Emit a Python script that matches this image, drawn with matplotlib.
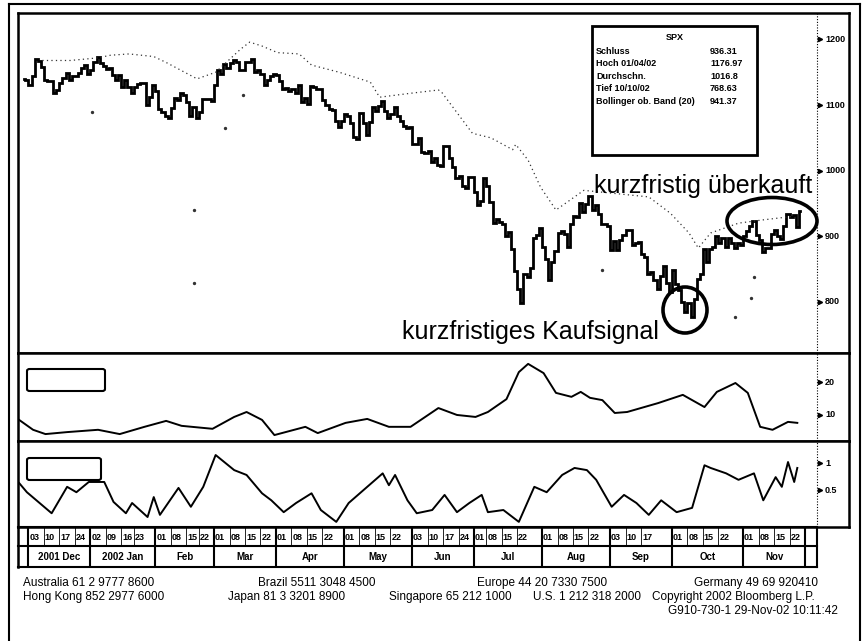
import numpy as np
import pandas as pd
import matplotlib
matplotlib.use("Agg")
import matplotlib.pyplot as plt
from matplotlib.patches import Rectangle, Ellipse, FancyBboxPatch
from matplotlib.lines import Line2D
from matplotlib import font_manager as fm

# ---------------- data (S&P 500, daily closes) ----------------
nov01 = [1140, 1139]
dec01 = [1130,1145,1170,1167,1158,1139,1136,1137,1119,1123,1134,1142,1149,1139,1144,1144,1149,1157,1161,1148]
jan02 = [1154,1166,1173,1164,1160,1155,1156,1146,1138,1146,1128,1138,1128,1119,1128,1132,1133,1134,1100,1113,1130]
feb02 = [1122,1094,1090,1083,1080,1096,1111,1107,1118,1116,1104,1083,1097,1081,1089,1109,1109,1110,1106]
mar02 = [1131,1154,1147,1162,1157,1164,1168,1165,1154,1153,1166,1166,1170,1151,1153,1148,1131,1138,1144,1147]
apr02 = [1146,1136,1125,1126,1122,1125,1118,1130,1104,1111,1102,1129,1127,1125,1125,1108,1100,1094,1093,1076,1066,1076]
may02 = [1086,1084,1073,1052,1049,1088,1073,1054,1074,1097,1091,1098,1106,1091,1080,1086,1097,1083,1075,1068,1065,1067]
jun02 = [1040,1040,1050,1029,1027,1030,1013,1020,1009,1007,1037,1037,1019,1006,989,992,977,973,990,990]
jul02 = [968,948,953,989,977,952,920,927,921,918,900,906,881,847,820,798,843,838,852,898,902,912]
aug02 = [884,865,834,860,877,905,908,903,884,919,931,930,950,937,949,962,940,947,934,918,918,916]
sep02 = [879,893,879,894,902,909,910,887,889,892,873,869,843,846,834,820,840,855,828,815]
oct02 = [848,827,818,800,785,798,777,804,835,842,881,860,880,884,900,890,897,883,898,890,882,890,886]
nov02 = [900,908,915,923,902,894,876,882,882,904,910,900,896,915,934,930,932,914,938]

# upper band (dotted), positions in trading days from 29-Nov-2001
band_pos  = [6,15,24,28,34,42,46,50,56,62,70,73,77,82,89,93,102,112,115,125,134,135,
             145,151,158,159,163,167,172,181,202,209,215,218,222,231,239,248]
band_vals = [1168,1168,1172,1176,1178,1174,1165,1155,1140,1150,1185,1196,1190,1180,1178,1161,
             1150,1135,1112,1118,1123,1120,1057,1050,1032,1040,1016,975,940,970,960,935,905,
             882,905,920,925,930]
# scattered remnants of the lower band
low_pos  = [22,55,55,65,71,187,230,235,236]
low_vals = [1089,940,829,1065,1115,849,777,806,838]

# middle panel indicator
mid_pos  = [-1.5,3,7,14,24,31,39,46,51,61,68,72,77,81,91,95,104,111,118,125,134,140,146,150,
            156,160,163,168,172,177,180,183,187,191,195,205,213,220,224,230,234,238,242,247,250]
mid_vals = [8.5,5.5,4.2,4.8,5.5,4.2,6.4,8.2,6.7,5.8,9.4,10.9,8.5,3.9,6.4,4.5,7.6,8.8,6.4,6.4,
            12.1,10.0,9.4,10.9,14.8,23.0,25.5,22.7,16.7,15.5,17.0,15.2,14.5,10.6,10.9,13.6,16.1,
            12.4,17.0,19.7,16.7,6.4,5.5,7.9,7.6]

# bottom panel oscillator
osc_pos  = [-1.5,1,9,14,17,21,26,29,33,35,40,42,44,50,54,58,62,68,72,77,80,84,88,93,96,101,
            105,108,116,118,120,124,127,132,136,140,144,148,150,155,160,165,169,174,178,182,
            185,190,194,198,202,206,211,216,220,222,227,231,236,239,243,245,247,249,250]
osc_vals = [0.63,0.46,0.07,0.56,0.46,0.65,0.65,0.28,0.07,0.26,0.0,0.37,0.04,0.54,0.19,0.56,
            1.15,0.87,0.78,0.44,0.31,0.09,0.26,0.44,0.13,-0.09,0.26,0.41,0.81,0.59,0.78,0.31,
            0.07,0.13,0.41,0.09,0.26,0.41,0.09,0.13,-0.09,0.56,0.46,0.78,0.91,0.87,0.69,0.19,
            0.41,0.26,0.04,0.31,0.09,0.17,0.96,0.91,0.81,0.69,0.81,0.31,0.74,0.56,1.02,0.65,0.91]

main_ticks = [1200, 1100, 1000, 900, 800]
mid_ticks = [20, 10]
osc_ticks = [1, 0.5]
osc_tick_labels = ['1', '0.5']

month_keys  = ['2001-12','2002-01','2002-02','2002-03','2002-04','2002-05','2002-06',
               '2002-07','2002-08','2002-09','2002-10','2002-11']
month_names = ['2001 Dec','2002 Jan','Feb','Mar','Apr','May','Jun','Jul','Aug','Sep','Oct','Nov']
week_days = [['03','10','17','24'],['02','09','16','23'],['01','08','15','22'],['01','08','15','22'],
             ['01','08','15','22'],['01','08','15','22'],['03','10','17','24'],['01','08','15','22'],
             ['01','08','15','22'],['03','10','17'],['01','08','15','22'],['01','08','15','22']]

holidays = ['2001-12-25','2002-01-01','2002-01-21','2002-02-18','2002-03-29','2002-05-27',
            '2002-07-04','2002-09-02','2002-11-28']

legend_rows = [('Schluss', '936.31'), ('Hoch 01/04/02', '1176.97'), ('Durchschn.', '1016.8'),
               ('Tief 10/10/02', '768.63'), ('Bollinger ob. Band (20)', '941.37')]

# ---------------- setup ----------------
names = {f.name for f in fm.fontManager.ttflist}
NARROW = 'Liberation Sans Narrow' if 'Liberation Sans Narrow' in names else 'Liberation Sans'
plt.rcParams['font.family'] = ['Liberation Sans', 'DejaVu Sans']

W, H = 868, 641
fig = plt.figure(figsize=(W / 100, H / 100), dpi=100)
fig.patch.set_facecolor('white')

def rect(x0, y0, x1, y1):
    return [x0 / W, 1 - y1 / H, (x1 - x0) / W, (y1 - y0) / H]

def fx(x):
    return x / W

def fy(y):
    return 1 - y / H

days = pd.bdate_range('2001-11-29', '2002-11-29')
days = days[~days.isin(pd.to_datetime(holidays))]
close = np.array(nov01 + dec01 + jan02 + feb02 + mar02 + apr02 + may02 + jun02 +
                 jul02 + aug02 + sep02 + oct02 + nov02, dtype=float)
pos = np.arange(len(close))

# px = 23.8 + 3.094 * p
XL = (18 - 23.8) / 3.094
XR = (849 - 23.8) / 3.094
XD = (817 - 23.8) / 3.094
XM = (820 - 23.8) / 3.094
XT = (825 - 23.8) / 3.094

def style_axes(ax):
    ax.set_xlim(XL, XR)
    ax.set_xticks([])
    ax.set_yticks([])
    for s in ax.spines.values():
        s.set_linewidth(1.8)
    ax.axvline(XD, color='black', lw=0.8, ls=(0, (1, 1.5)))

# ---------------- main panel ----------------
ax = fig.add_axes(rect(18, 13, 849, 353))
style_axes(ax)
ax.set_ylim(722, 1240.4)
ax.plot(pos, close, drawstyle='steps-mid', color='black', lw=2.0, solid_joinstyle='miter')
ax.plot(band_pos, band_vals, color='#333333', lw=0.9, ls=(0, (1, 2.6)))
ax.plot(low_pos, low_vals, ls='none', marker='o', ms=1.4, color='#333333')
for t in main_ticks:
    ax.plot([XM], [t], marker='>', ms=3, color='black', clip_on=False)
    ax.text(XT, t, str(t), fontsize=6.5, fontweight='bold', family=[NARROW, 'DejaVu Sans'],
            va='center', ha='left')

# legend box
fig.add_artist(Rectangle((fx(592), fy(155)), (757 - 592) / W, (155 - 26) / H,
                         transform=fig.transFigure, fill=True, facecolor='white',
                         edgecolor='black', lw=2))
fig.text(fx(675), fy(38), 'SPX', fontsize=6.5, fontweight='bold', ha='center', va='center',
         family=[NARROW, 'DejaVu Sans'])
for k, (lab, val) in enumerate(legend_rows):
    yy = 51 + k * 12.6
    fig.text(fx(596), fy(yy), lab, fontsize=6.5, fontweight='bold', ha='left', va='center',
             family=[NARROW, 'DejaVu Sans'])
    fig.text(fx(710), fy(yy), val, fontsize=6.5, fontweight='bold', ha='left', va='center',
             family=[NARROW, 'DejaVu Sans'])

# annotations
fig.text(fx(594), fy(193), 'kurzfristig überkauft', fontsize=18, ha='left', va='baseline',
         family=[NARROW, 'DejaVu Sans'])
fig.text(fx(402), fy(339), 'kurzfristiges Kaufsignal', fontsize=18, ha='left', va='baseline',
         family=[NARROW, 'DejaVu Sans'])
fig.add_artist(Ellipse((fx(685), fy(310)), 44 / W, 46 / H, transform=fig.transFigure,
                       fill=False, edgecolor='black', lw=2.6))
fig.add_artist(Ellipse((fx(772), fy(221)), 90 / W, 47 / H, transform=fig.transFigure,
                       fill=False, edgecolor='black', lw=2.6))

# ---------------- middle panel ----------------
ax2 = fig.add_axes(rect(18, 353, 849, 441))
style_axes(ax2)
ax2.set_ylim(2.1, 28.8)
ax2.plot(mid_pos, mid_vals, color='black', lw=1.4)
for t in mid_ticks:
    ax2.plot([XM], [t], marker='>', ms=3, color='black', clip_on=False)
    ax2.text(XT, t, str(t), fontsize=6.5, fontweight='bold', family=[NARROW, 'DejaVu Sans'],
             va='center', ha='left')
ax2.add_patch(FancyBboxPatch((fx(27), fy(391)), (105 - 27) / W, (391 - 369) / H,
                             boxstyle='round,pad=0,rounding_size=0.003',
                             transform=fig.transFigure, facecolor='white', edgecolor='black',
                             lw=1.5, zorder=5))

# ---------------- bottom panel ----------------
ax3 = fig.add_axes(rect(18, 441, 849, 527))
style_axes(ax3)
ax3.set_ylim(-0.185, 1.41)
ax3.plot(osc_pos, osc_vals, color='black', lw=1.4)
for t, lab in zip(osc_ticks, osc_tick_labels):
    ax3.plot([XM], [t], marker='>', ms=3, color='black', clip_on=False)
    ax3.text(XT, t, lab, fontsize=6.5, fontweight='bold', family=[NARROW, 'DejaVu Sans'],
             va='center', ha='left')
ax3.add_patch(FancyBboxPatch((fx(27), fy(480)), (101 - 27) / W, (480 - 458) / H,
                             boxstyle='round,pad=0,rounding_size=0.003',
                             transform=fig.transFigure, facecolor='white', edgecolor='black',
                             lw=1.5, zorder=5))

# ---------------- date table ----------------
axt = fig.add_axes(rect(18, 527, 817, 567))
axt.set_xlim(XL, XD)
axt.set_ylim(0, 40)
axt.axis('off')
for yy in (40, 21, 0):
    axt.plot([XL, XD], [yy, yy], color='black', lw=1.5, clip_on=False)
axt.plot([XL, XL], [0, 40], color='black', lw=1.8, clip_on=False)
axt.plot([XD, XD], [0, 40], color='black', lw=1.5, clip_on=False)
starts = [int(np.searchsorted(days, pd.Timestamp(k + '-01'))) - 0.5 for k in month_keys]
ends = starts[1:] + [len(days) - 0.5]
for s in starts + [ends[-1]]:
    axt.plot([s, s], [0, 40], color='black', lw=1.5)
for k, name, wk, s, e in zip(month_keys, month_names, week_days, starts, ends):
    axt.text((s + e) / 2, 10, name, fontsize=7, fontweight='bold', ha='center', va='center',
             family=[NARROW, 'DejaVu Sans'])
    for d in wk:
        p = days.get_loc(pd.Timestamp(f'{k}-{d}'))
        axt.plot([p - 0.5, p - 0.5], [21, 40], color='black', lw=0.6)
        axt.text(p - 0.2, 30, d, fontsize=6.5, fontweight='bold', ha='left', va='center',
                 family=[NARROW, 'DejaVu Sans'])

# ---------------- frames ----------------
def fline(xs, ys, lw=1.5):
    fig.add_artist(Line2D([fx(x) for x in xs], [fy(y) for y in ys], color='black', lw=lw,
                          transform=fig.transFigure))

fline([9, 9], [4, 641])
fline([9, 860], [4, 4])
fline([860, 860], [4, 641])

# ---------------- footer ----------------
foot = dict(fontsize=8.5, family=[NARROW, 'DejaVu Sans'], va='center', ha='left')
fig.text(fx(23), fy(583), 'Australia 61 2 9777 8600', **foot)
fig.text(fx(258), fy(583), 'Brazil 5511 3048 4500', **foot)
fig.text(fx(477), fy(583), 'Europe 44 20 7330 7500', **foot)
fig.text(fx(694), fy(583), 'Germany 49 69 920410', **foot)
fig.text(fx(23), fy(597), 'Hong Kong 852 2977 6000', **foot)
fig.text(fx(228), fy(597), 'Japan 81 3 3201 8900', **foot)
fig.text(fx(389), fy(597), 'Singapore 65 212 1000', **foot)
fig.text(fx(533), fy(597), 'U.S. 1 212 318 2000', **foot)
fig.text(fx(652), fy(597), 'Copyright 2002 Bloomberg L.P.', **foot)
fig.text(fx(838), fy(611), 'G910-730-1 29-Nov-02 10:11:42', fontsize=8.5,
         family=[NARROW, 'DejaVu Sans'], va='center', ha='right')

fig.savefig('out.png', dpi=100, facecolor='white')
